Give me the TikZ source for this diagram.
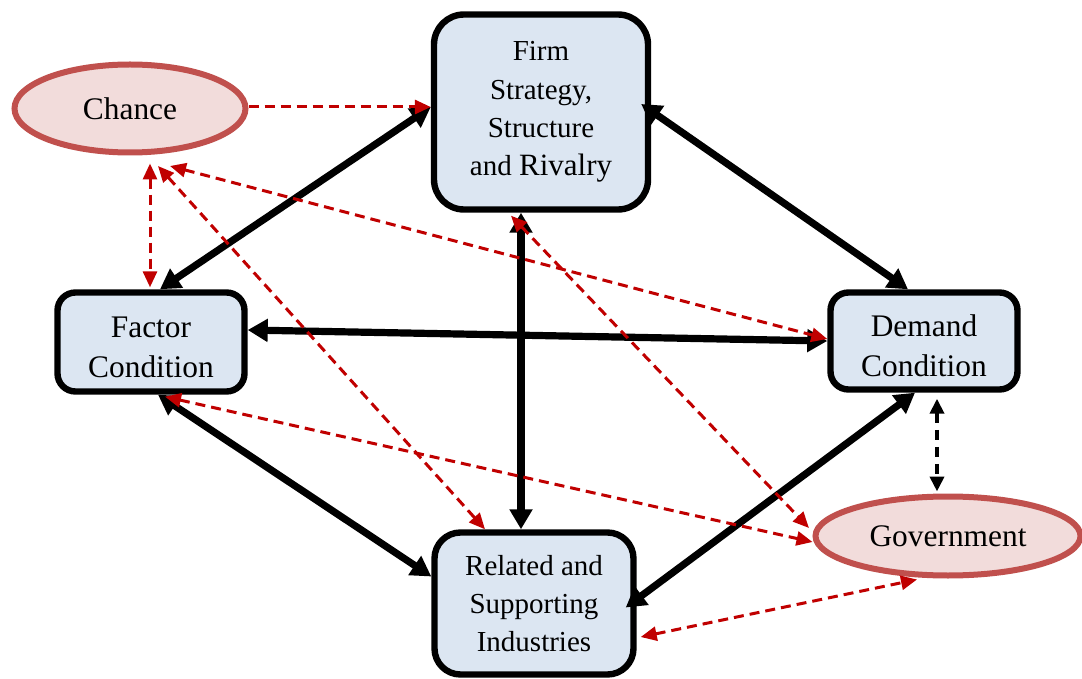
\documentclass[tikz,border=0pt]{standalone}
\usepackage{fontspec}
\setmainfont{Liberation Serif}
\usetikzlibrary{arrows.meta,shapes.geometric}
\definecolor{boxfill}{HTML}{DCE6F2}
\definecolor{ellfill}{HTML}{F2DCDB}
\definecolor{elldraw}{HTML}{C0504D}
\definecolor{reddash}{HTML}{C00000}
\begin{document}
\begin{tikzpicture}[x=0.5pt,y=-0.5pt,
  boxnode/.style={draw=black, line width=3.2pt, fill=boxfill, rounded corners=9pt, align=center, inner sep=0pt},
  bigfont/.style={font=\fontsize{15.7}{20}\selectfont},
  smallfont/.style={font=\fontsize{14.5}{19.2}\selectfont},
  ellnode/.style={ellipse, draw=elldraw, line width=3pt, fill=ellfill, inner sep=0pt, bigfont},
  thickarrow/.style={line width=3.6pt, {Triangle[length=10pt,width=11pt]}-{Triangle[length=10pt,width=11pt]}},
  blackdash/.style={line width=2pt, dash pattern=on 5pt off 3.5pt, {Triangle[length=7.5pt,width=7pt]}-{Triangle[length=7.5pt,width=7pt]}},
  redline/.style={draw=reddash, line width=1.5pt, dash pattern=on 5pt off 3pt},
  redone/.style={redline, -{Triangle[length=8pt,width=7pt]}},
  redtwo/.style={redline, {Triangle[length=8pt,width=7pt]}-{Triangle[length=8pt,width=7pt]}}
]
\useasboundingbox (0,0) rectangle (1082,679);

% nodes
\node[boxnode, smallfont, rounded corners=15pt, minimum width=107pt, minimum height=97.5pt] (firm) at (541,112)
  {Firm\\Strategy,\\Structure\\and {\fontsize{15.5}{19.2}\selectfont Rivalry}};
\node[boxnode, bigfont, text height=35.7pt, minimum width=93.5pt, minimum height=49.5pt] (factor) at (151,342) {Factor\\Condition};
\node[boxnode, bigfont, text height=35.7pt, minimum width=93.5pt, minimum height=48.5pt] (demand) at (924,341) {Demand\\Condition};
\node[boxnode, smallfont, rounded corners=13pt, minimum width=99.5pt, minimum height=71pt] (related) at (534,603.5)
  {Related and\\Supporting\\Industries};
\node[ellnode, minimum width=115.5pt, minimum height=44pt] (chance) at (130,108.5) {Chance};
\node[ellnode, minimum width=132.5pt, minimum height=39.5pt] (government) at (948,536) {Government};

% black connectors
\draw[thickarrow] ([yshift=2.5pt]firm.west) -- ([xshift=4.5pt]factor.north);
\draw[thickarrow] ([xshift=-5pt,yshift=4pt]firm.east) -- ([xshift=-8pt]demand.north);
\draw[thickarrow] ([yshift=6pt]factor.east) -- (demand.west);
\draw[thickarrow] ([xshift=-10pt]firm.south) -- ([xshift=-6.5pt]related.north);
\draw[thickarrow] ([xshift=3.5pt]factor.south) -- ([yshift=13.5pt]related.west);
\draw[thickarrow] ([xshift=-4.5pt]demand.south) -- ([xshift=-5.5pt,yshift=-2pt]related.east);
\draw[blackdash] ([xshift=6.5pt,yshift=-3pt]demand.south) -- ([xshift=-5.5pt,yshift=1pt]government.north);

% red connectors
\draw[redone] ([yshift=0.75pt]chance.east) -- ([yshift=2.5pt]firm.west);
\draw[redtwo] ([xshift=10pt,yshift=-4pt]chance.south) -- ([xshift=-0.5pt,yshift=1pt]factor.north);
\draw[redtwo] ([xshift=14pt,yshift=-5.25pt]chance.south) -- ([xshift=-24.5pt]related.north);
\draw[redtwo] ([xshift=20pt,yshift=-5.25pt]chance.south) -- ([yshift=1pt]demand.west);
\draw[redtwo] ([xshift=-15pt,yshift=-1.5pt]firm.south) -- ([xshift=-1.75pt,yshift=4pt]government.west);
\draw[redtwo] ([xshift=7pt,yshift=-1pt]factor.south) -- ([yshift=-3pt]government.west);
\draw[redtwo] ([xshift=2pt,yshift=-16.75pt]related.east) -- ([xshift=-15.5pt,yshift=-0.5pt]government.south);
\end{tikzpicture}
\end{document}
